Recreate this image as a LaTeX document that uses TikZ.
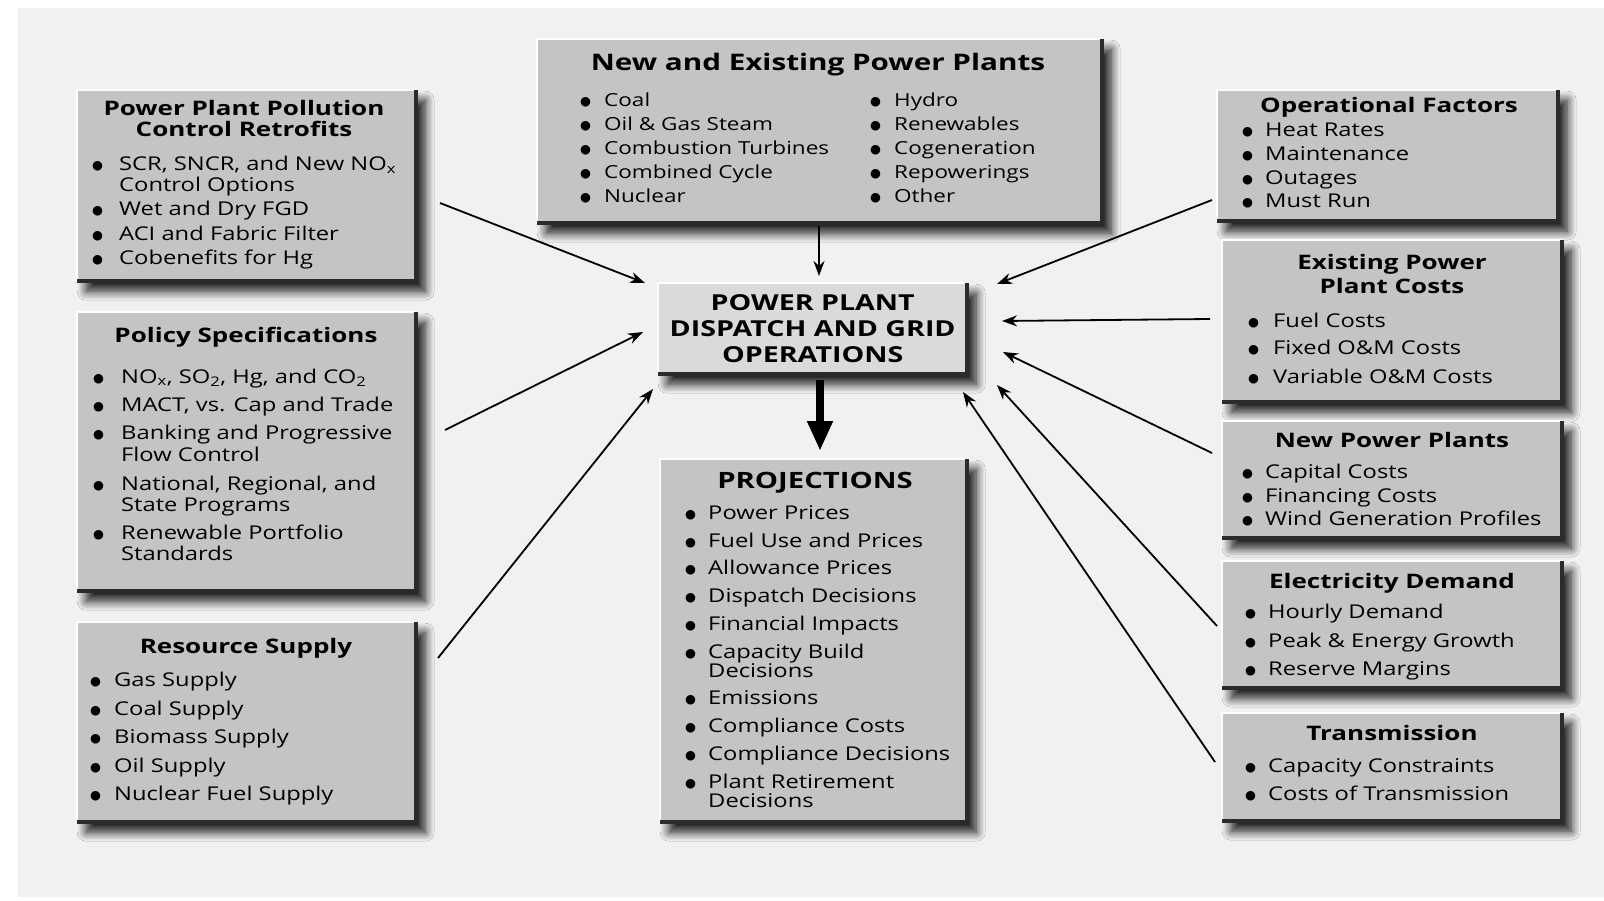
\documentclass[tikz,border=0pt]{standalone}
\usepackage{fontspec}
\setmainfont{Open Sans}[FakeStretch=1.25]
\newfontfamily\ttlfont{Open Sans}[FakeStretch=1.3]
\newfontfamily\symfont{DejaVu Sans}
\usetikzlibrary{arrows.meta,shadows.blur}
\definecolor{panelbg}{HTML}{F1F1F1}
\definecolor{boxfill}{HTML}{C4C4C4}
\definecolor{ctrfill}{HTML}{DADADA}
\definecolor{edgedark}{HTML}{2B2B2B}
\newlength\bulgap
\newcommand\bul{\llap{\makebox[\bulgap][l]{\raisebox{1pt}{\symfont\fontsize{12.5}{12.5}\selectfont ●}}}}
\tikzset{
 x=1pt,y=-1pt,
 panel/.style={rectangle, draw=none, fill=boxfill, inner sep=0pt, anchor=north west,
   blur shadow={shadow xshift=9pt, shadow yshift=-10pt, shadow blur radius=9pt, shadow opacity=90, shadow blur steps=12}},
 hl/.style={line width=2.5pt, white},
 dk/.style={line width=4pt, edgedark},
 ttl/.style={font=\ttlfont\bfseries\fontsize{20}{20}\selectfont, anchor=base, inner sep=0pt},
 itm/.style={font=\fontsize{19}{19}\selectfont, anchor=base west, inner sep=0pt},
 arr/.style={line width=1.8pt, -{Stealth[length=15pt,width=11pt]}},
 bigarr/.style={line width=8pt, -{Triangle[length=30pt,width=24pt]}}
}
\begin{document}
\begin{tikzpicture}
\useasboundingbox (0,0) rectangle (1604,901);
\fill[white] (0,0) rectangle (1604,901);
\fill[panelbg] (18,8) rectangle (1604,897);

% boxes
\node[panel, minimum width=339pt, minimum height=191pt] (pol) at (77,90) {};
\node[panel, minimum width=565pt, minimum height=184pt] (nep) at (537,39) {};
\node[panel, fill=ctrfill, minimum width=309pt, minimum height=91pt, align=center,
  font=\ttlfont\bfseries\fontsize{22}{26}\selectfont] (ctr) at (658,283)
  {POWER PLANT\\DISPATCH AND GRID\\OPERATIONS};
\node[panel, minimum width=307pt, minimum height=363pt] (proj) at (660,459) {};
\node[panel, minimum width=339pt, minimum height=279pt] (pcy) at (77,312) {};
\node[panel, minimum width=339pt, minimum height=200pt] (res) at (77,622) {};
\node[panel, minimum width=341pt, minimum height=131pt] (opf) at (1217,90) {};
\node[panel, minimum width=340pt, minimum height=162pt] (epc) at (1222,240) {};
\node[panel, minimum width=340pt, minimum height=117pt] (npp) at (1222,421) {};
\node[panel, minimum width=340pt, minimum height=127pt] (eld) at (1222,561) {};
\node[panel, minimum width=340pt, minimum height=108pt] (trn) at (1222,713) {};

\foreach \n in {pol,nep,ctr,proj,pcy,res,opf,epc,npp,eld,trn}{
  \draw[hl] (\n.south west) -- (\n.north west) -- (\n.north east);
  \draw[dk] (\n.south west) -- (\n.south east) -- (\n.north east);
}

% titles
\node[ttl] (polT1) at (244,116) {Power Plant Pollution};
\node[ttl] (polT2) at (244,137) {Control Retrofits};
\node[ttl, font=\ttlfont\bfseries\fontsize{22.8}{22.8}\selectfont] (nepT) at (818,71) {New and Existing Power Plants};
\node[ttl, font=\ttlfont\bfseries\fontsize{22.5}{22.5}\selectfont] (projT) at (815,488) {PROJECTIONS};
\node[ttl] (pcyT) at (246,343) {Policy Specifications};
\node[ttl] (resT) at (246,653) {Resource Supply};
\node[ttl] (opfT) at (1389,113) {Operational Factors};
\node[ttl] (epcT1) at (1392,270) {Existing Power};
\node[ttl] (epcT2) at (1392,294) {Plant Costs};
\node[ttl] (nppT) at (1392,447) {New Power Plants};
\node[ttl] (eldT) at (1392,588) {Electricity Demand};
\node[ttl] (trnT) at (1392,740) {Transmission};

% lists
\setlength\bulgap{27pt}
\foreach \yy/\txt [count=\i] in {171/{\bul SCR, SNCR, and New NO\textsubscript{x}}, 192/{Control Options},
  216/{\bul Wet and Dry FGD}, 241/{\bul ACI and Fabric Filter}, 265/{\bul Cobenefits for Hg}}
  \node[itm] (pol-\i) at (119,\yy) {\txt};

\setlength\bulgap{24pt}
\foreach \yy/\txt [count=\i] in {107/{\bul Coal}, 131/{\bul Oil \& Gas Steam}, 155/{\bul Combustion Turbines},
  179/{\bul Combined Cycle}, 203/{\bul Nuclear}}
  \node[itm, font=\fontsize{18}{18}\selectfont] (nepA-\i) at (604,\yy) {\txt};
\foreach \yy/\txt [count=\i] in {107/{\bul Hydro}, 131/{\bul Renewables}, 155/{\bul Cogeneration},
  179/{\bul Repowerings}, 203/{\bul Other}}
  \node[itm, font=\fontsize{18}{18}\selectfont] (nepB-\i) at (894,\yy) {\txt};

\setlength\bulgap{28pt}
\foreach \yy/\txt [count=\i] in {383/{\bul NO\textsubscript{x}, SO\textsubscript{2}, Hg, and CO\textsubscript{2}},
  411/{\bul MACT, vs. Cap and Trade}, 439/{\bul Banking and Progressive}, 461/{Flow Control},
  490/{\bul National, Regional, and}, 511/{State Programs}, 539/{\bul Renewable Portfolio}, 560/{Standards}}
  \node[itm] (pcy-\i) at (121,\yy) {\txt};

\setlength\bulgap{24pt}
\foreach \yy/\txt [count=\i] in {686/{\bul Gas Supply}, 715/{\bul Coal Supply}, 743/{\bul Biomass Supply},
  772/{\bul Oil Supply}, 800/{\bul Nuclear Fuel Supply}}
  \node[itm] (res-\i) at (114,\yy) {\txt};

\setlength\bulgap{23pt}
\foreach \yy/\txt [count=\i] in {519/{\bul Power Prices}, 547/{\bul Fuel Use and Prices}, 574/{\bul Allowance Prices},
  602/{\bul Dispatch Decisions}, 630/{\bul Financial Impacts}, 658/{\bul Capacity Build}, 677/{Decisions},
  704/{\bul Emissions}, 732/{\bul Compliance Costs}, 760/{\bul Compliance Decisions},
  788/{\bul Plant Retirement}, 807/{Decisions}}
  \node[itm] (proj-\i) at (708,\yy) {\txt};

\setlength\bulgap{23pt}
\foreach \yy/\txt [count=\i] in {137/{\bul Heat Rates}, 161/{\bul Maintenance}, 185/{\bul Outages}, 208/{\bul Must Run}}
  \node[itm] (opf-\i) at (1265,\yy) {\txt};

\setlength\bulgap{25pt}
\foreach \yy/\txt [count=\i] in {327/{\bul Fuel Costs}, 355/{\bul Fixed O\&M Costs}, 383/{\bul Variable O\&M Costs}}
  \node[itm] (epc-\i) at (1273,\yy) {\txt};

\setlength\bulgap{23pt}
\foreach \yy/\txt [count=\i] in {478/{\bul Capital Costs}, 502/{\bul Financing Costs}, 525/{\bul Wind Generation Profiles}}
  \node[itm] (npp-\i) at (1265,\yy) {\txt};
\foreach \yy/\txt [count=\i] in {618/{\bul Hourly Demand}, 647/{\bul Peak \& Energy Growth}, 675/{\bul Reserve Margins}}
  \node[itm] (eld-\i) at (1268,\yy) {\txt};
\foreach \yy/\txt [count=\i] in {772/{\bul Capacity Constraints}, 800/{\bul Costs of Transmission}}
  \node[itm] (trn-\i) at (1268,\yy) {\txt};

% arrow end points
\coordinate (polS) at (440,203);  \coordinate (polE) at (645,283);
\coordinate (pcyS) at (445,430);  \coordinate (pcyE) at (643,332);
\coordinate (resS) at (438,658);  \coordinate (resE) at (653,389);
\coordinate (nepS) at (819,226);  \coordinate (nepE) at (819,276);
\coordinate (opfS) at (1212,200); \coordinate (opfE) at (997,284);
\coordinate (epcS) at (1210,319); \coordinate (epcE) at (1002,321);
\coordinate (nppS) at (1212,453); \coordinate (nppE) at (1003,352);
\coordinate (eldS) at (1217,626); \coordinate (eldE) at (997,385);
\coordinate (trnS) at (1215,762); \coordinate (trnE) at (963,392);
\coordinate (ctrS) at (820,380);  \coordinate (projE) at (820,451);

\foreach \a in {pol,pcy,res,nep,opf,epc,npp,eld,trn}
  \draw[arr] (\a S) -- (\a E);
\draw[bigarr] (ctrS) -- (projE);
\end{tikzpicture}
\end{document}
